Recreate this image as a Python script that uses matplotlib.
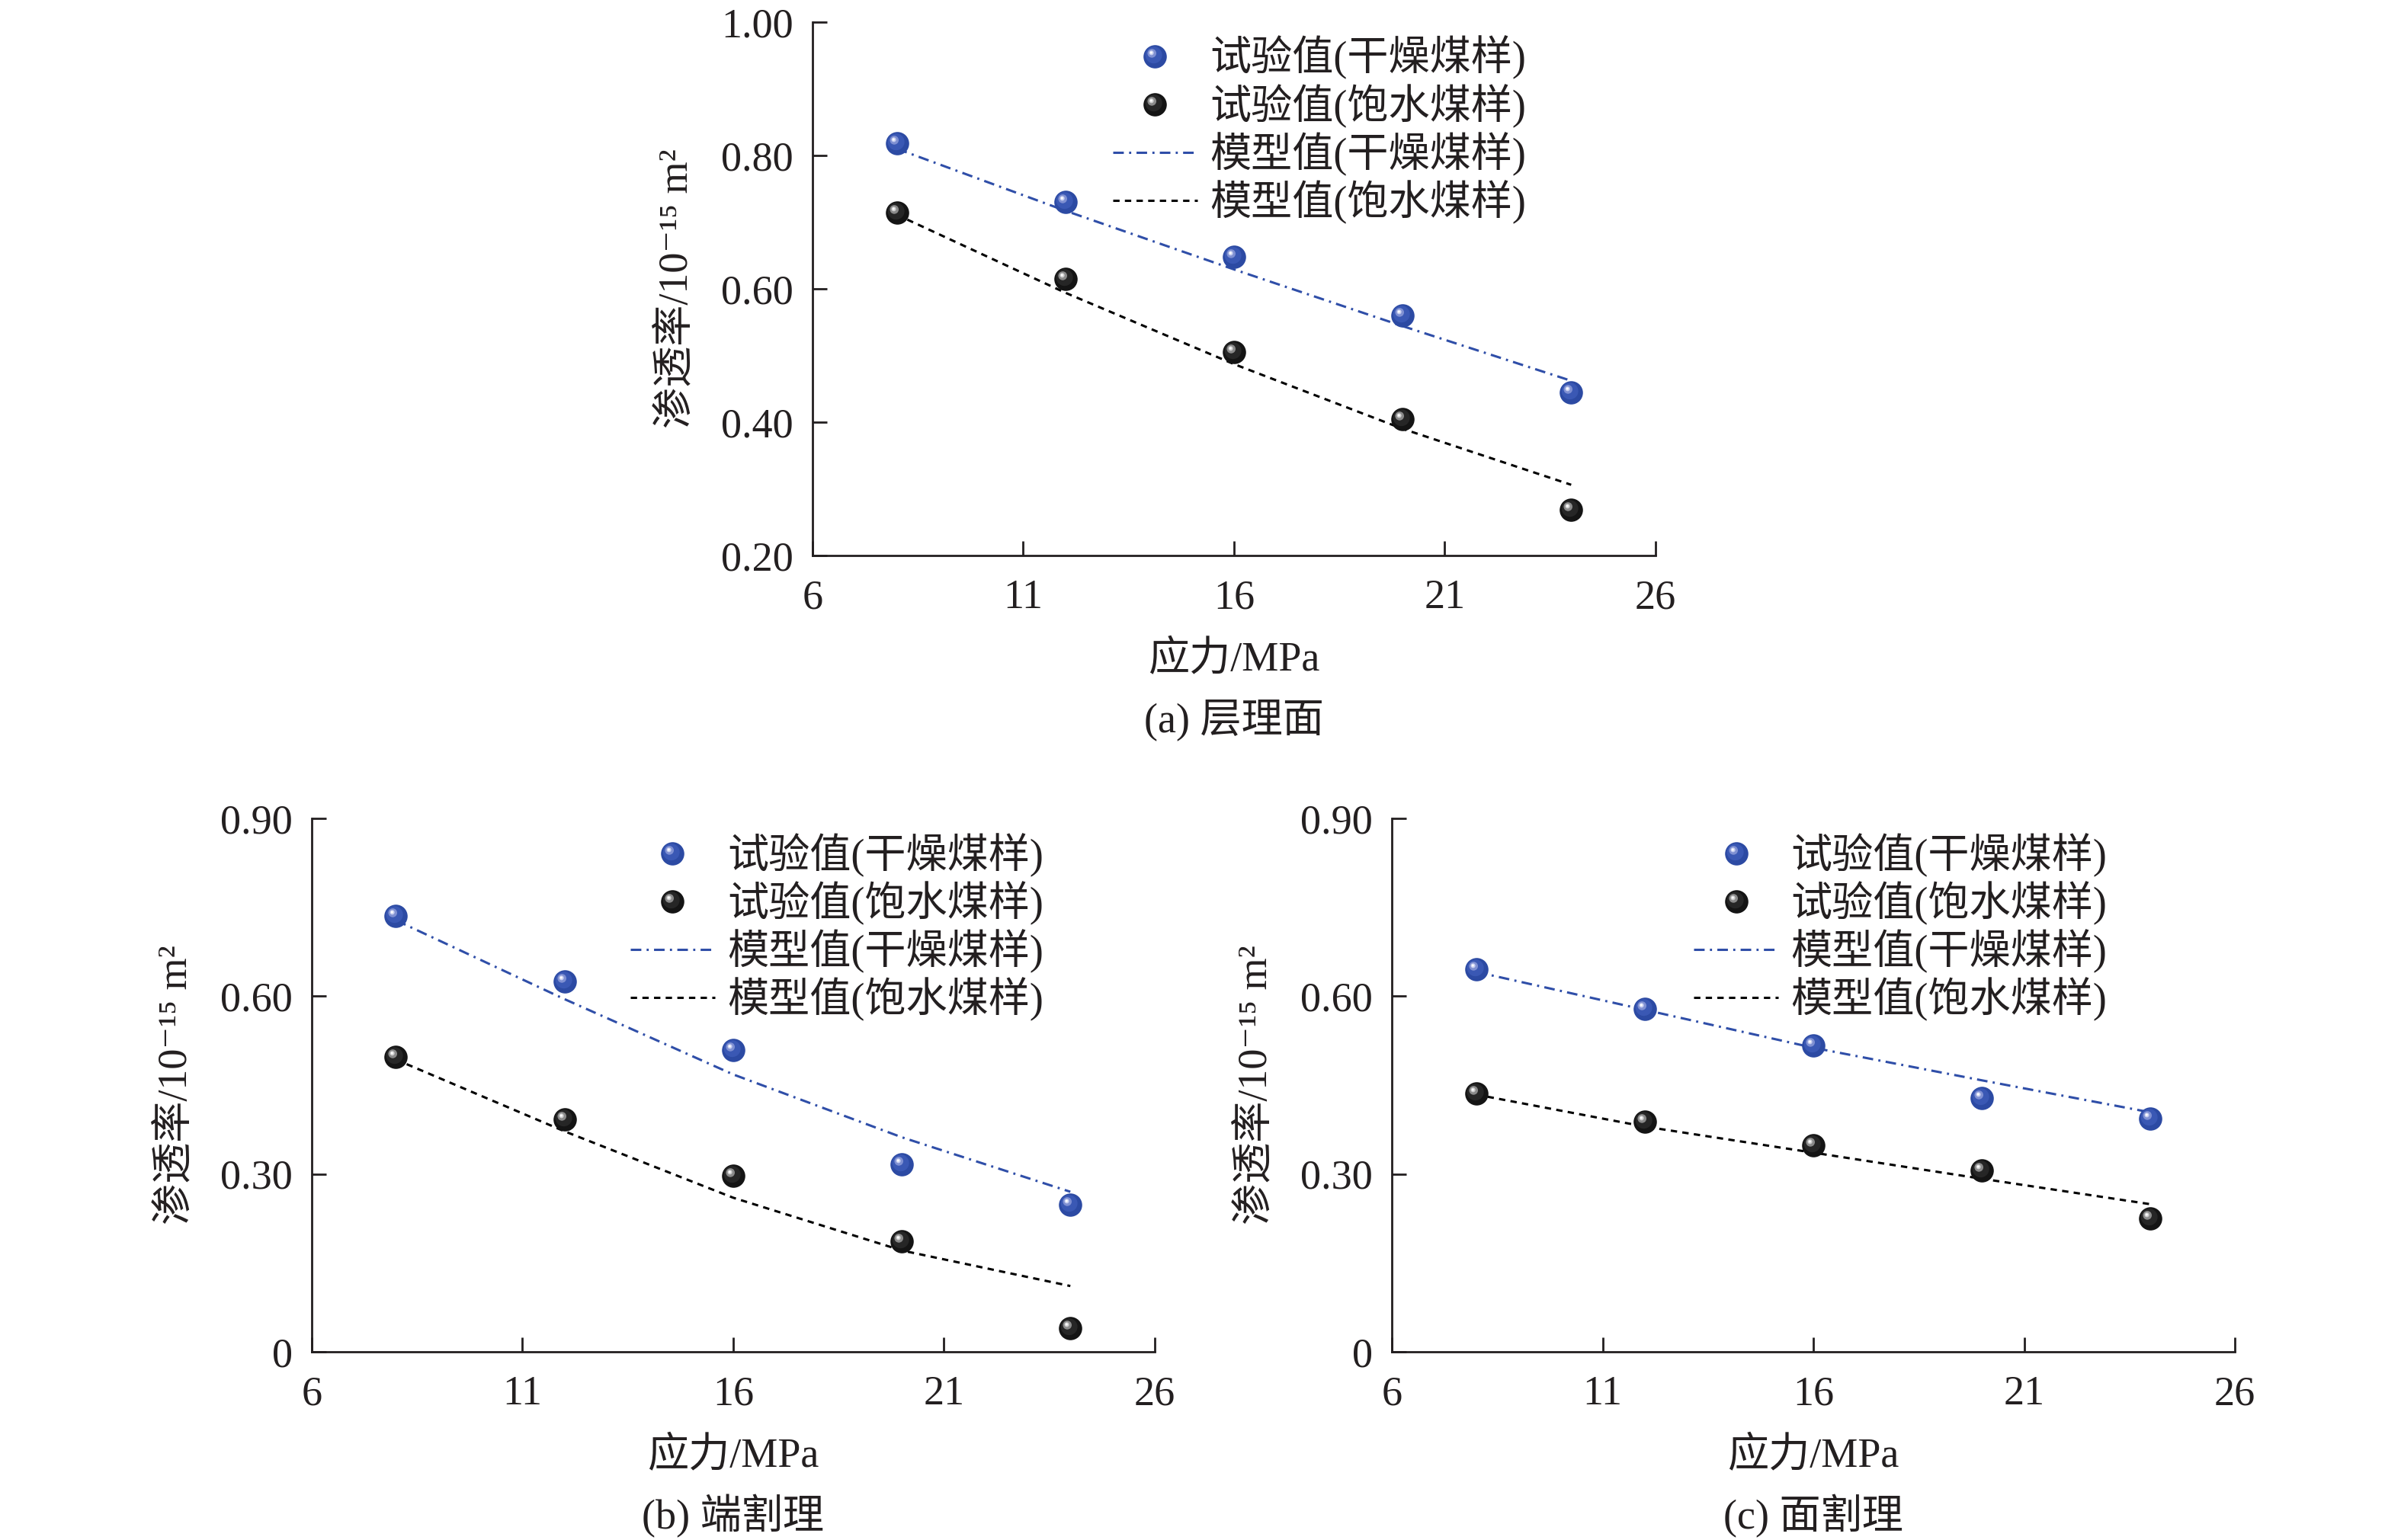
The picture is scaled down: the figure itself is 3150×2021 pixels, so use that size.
import numpy as np
import matplotlib
matplotlib.use('Agg')
import matplotlib.pyplot as plt
from matplotlib.path import Path
from matplotlib.legend_handler import HandlerTuple

plt.rcParams['font.family'] = ['Liberation Serif', 'Noto Sans CJK SC', 'DejaVu Serif']
plt.rcParams['lines.scale_dashes'] = False
plt.rcParams['axes.unicode_minus'] = False

# 应力 (MPa)
stress = [8, 12, 16, 20, 24]

# (a) 层理面
a_dry_test = [0.818, 0.730, 0.648, 0.560, 0.445]
a_wet_test = [0.714, 0.615, 0.505, 0.405, 0.268]
a_dry_model = [0.810, 0.717, 0.629, 0.544, 0.462]
a_wet_model = [0.711, 0.594, 0.487, 0.390, 0.306]

# (b) 端割理
b_dry_test = [0.736, 0.625, 0.509, 0.316, 0.248]
b_wet_test = [0.498, 0.392, 0.297, 0.186, 0.040]
b_dry_model = [0.728, 0.595, 0.468, 0.362, 0.270]
b_wet_model = [0.493, 0.372, 0.260, 0.171, 0.111]

# (c) 面割理
c_dry_test = [0.645, 0.579, 0.517, 0.428, 0.394]
c_wet_test = [0.436, 0.388, 0.348, 0.306, 0.225]
c_dry_model = [0.641, 0.577, 0.513, 0.458, 0.404]
c_wet_model = [0.434, 0.380, 0.336, 0.292, 0.249]

xticks = [6, 11, 16, 21, 26]
a_yticks = [0.20, 0.40, 0.60, 0.80, 1.00]
a_ylabels = ['0.20', '0.40', '0.60', '0.80', '1.00']
bc_yticks = [0, 0.30, 0.60, 0.90]
bc_ylabels = ['0', '0.30', '0.60', '0.90']

labels = ['试验值(干燥煤样)', '试验值(饱水煤样)', '模型值(干燥煤样)', '模型值(饱水煤样)']
ylabel = '渗透率/10⁻¹⁵ m²'
xlabel = '应力/MPa'

BLUE = '#2f4ea8'
DARK = '#231f20'
FS = 39


def ball_path(cx, cy, r):
    # 圆形标记, 加一个远处的 MOVETO 保证缩放一致
    circ = Path.circle((cx, cy), r)
    verts = np.vstack([[[1.0, 0.0]], circ.vertices])
    codes = np.concatenate([[Path.MOVETO], circ.codes])
    return Path(verts, codes)


blue_layers = [
    (ball_path(0, 0, 1.0), '#2c4aa3'),
    (ball_path(-0.12, 0.15, 0.72), '#3a58b4'),
    (ball_path(-0.28, 0.30, 0.38), '#7f90d2'),
    (ball_path(-0.32, 0.34, 0.2), '#c9d0f0'),
    (ball_path(-0.34, 0.36, 0.1), 'white'),
]
black_layers = [
    (ball_path(0, 0, 1.0), '#141414'),
    (ball_path(-0.12, 0.15, 0.72), '#262626'),
    (ball_path(-0.28, 0.30, 0.38), '#8a8a8a'),
    (ball_path(-0.32, 0.34, 0.2), '#cfcfcf'),
    (ball_path(-0.34, 0.36, 0.1), 'white'),
]


def draw_balls(ax, x, y, layers):
    hs = []
    for i, (p, c) in enumerate(layers):
        h, = ax.plot(x, y, ls='none', marker=p, ms=22, mfc=c, mec=c, mew=0,
                     zorder=4 + i, clip_on=False)
        hs.append(h)
    return tuple(hs)


def draw_panel(fig, rect, dry_t, wet_t, dry_m, wet_m, ylim, yticks, ylabs,
               leg_xy, caption):
    ax = fig.add_axes(rect)
    l1, = ax.plot(stress, dry_m, color=BLUE, lw=2.2, ls=(0, (10, 5, 2, 5)), zorder=2)
    l2, = ax.plot(stress, wet_m, color='black', lw=2.2, ls=(0, (6, 5)), zorder=2)
    h1 = draw_balls(ax, stress, dry_t, blue_layers)
    h2 = draw_balls(ax, stress, wet_t, black_layers)

    ax.set_xlim(6, 26)
    ax.set_ylim(*ylim)
    ax.set_xticks(xticks)
    ax.set_xticklabels([str(v) for v in xticks])
    ax.set_yticks(yticks)
    ax.set_yticklabels(ylabs)
    for s in ['top', 'right']:
        ax.spines[s].set_visible(False)
    for s in ['left', 'bottom']:
        ax.spines[s].set_linewidth(2.0)
        ax.spines[s].set_color(DARK)
    ax.tick_params(axis='both', direction='in', length=14, width=2.0,
                   color=DARK, labelsize=FS, labelcolor=DARK)
    ax.tick_params(axis='x', pad=22)
    ax.tick_params(axis='y', pad=18)

    ax.annotate(xlabel, xy=(0.5, 0), xycoords='axes fraction', xytext=(0, -138),
                textcoords='offset pixels', ha='center', va='center',
                fontsize=FS, color=DARK)
    ax.annotate(caption, xy=(0.5, 0), xycoords='axes fraction', xytext=(0, -216),
                textcoords='offset pixels', ha='center', va='center',
                fontsize=FS, color=DARK)
    ax.annotate(ylabel, xy=(0, 0.5), xycoords='axes fraction', xytext=(-178, 0),
                textcoords='offset pixels', ha='center', va='center',
                rotation=90, fontsize=FS, color=DARK)

    leg = ax.legend([h1, h2, l1, l2], labels, loc='upper left', bbox_to_anchor=leg_xy,
                    frameon=False, fontsize=FS, handlelength=2.05, handletextpad=0.3,
                    labelspacing=0.1, borderpad=0, borderaxespad=0,
                    handler_map={tuple: HandlerTuple(ndivide=1, pad=0)})
    for t in leg.get_texts():
        t.set_color(DARK)
    return ax


fig = plt.figure(figsize=(31.5, 20.21), dpi=100)

draw_panel(fig, [0.3384, 0.6393, 0.3511, 0.3464], a_dry_test, a_wet_test,
           a_dry_model, a_wet_model, (0.2, 1.0), a_yticks, a_ylabels,
           (0.356, 0.974), '(a) 层理面')
draw_panel(fig, [0.1298, 0.1222, 0.3511, 0.3464], b_dry_test, b_wet_test,
           b_dry_model, b_wet_model, (0, 0.9), bc_yticks, bc_ylabels,
           (0.378, 0.972), '(b) 端割理')
draw_panel(fig, [0.5797, 0.1222, 0.3511, 0.3464], c_dry_test, c_wet_test,
           c_dry_model, c_wet_model, (0, 0.9), bc_yticks, bc_ylabels,
           (0.358, 0.972), '(c) 面割理')

fig.savefig('out.png', dpi=100, facecolor='white')
